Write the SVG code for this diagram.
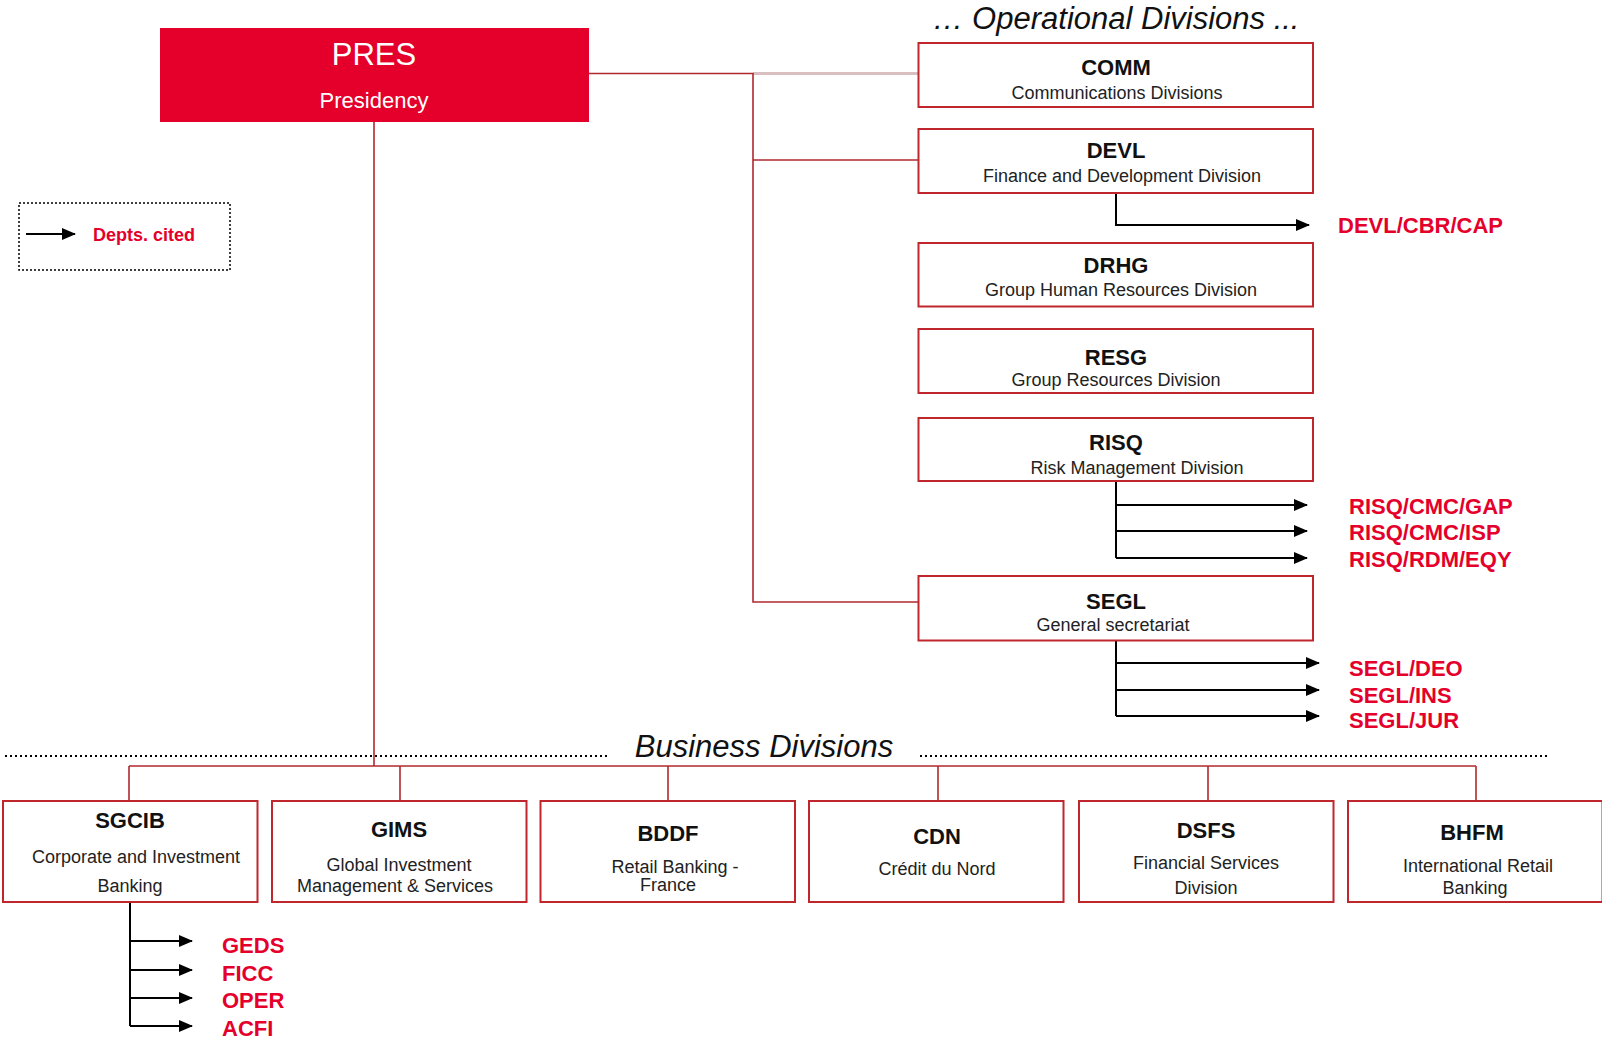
<svg xmlns="http://www.w3.org/2000/svg" width="1602" height="1041" viewBox="0 0 1602 1041">
<style>
.box{fill:#fff;stroke:#C0272D;stroke-width:2}
.t{font-family:"Liberation Sans",Arial,sans-serif;font-weight:bold;font-size:22px;fill:#111;text-anchor:middle}
.s{font-family:"Liberation Sans",Arial,sans-serif;font-size:18px;fill:#222;text-anchor:middle}
.lab{font-family:"Liberation Sans",Arial,sans-serif;font-weight:bold;font-size:22px;fill:#E4002B}
.hd{font-family:"Liberation Sans",Arial,sans-serif;font-style:italic;font-size:31px;fill:#111;text-anchor:middle}
.org{fill:none;stroke:#B0282E;stroke-width:1.6}
.arr{fill:none;stroke:#000;stroke-width:2;marker-end:url(#ah)}
.vl{fill:none;stroke:#000;stroke-width:2}
.dot{fill:none;stroke:#000;stroke-width:2;stroke-dasharray:2 3}
</style>
<defs>
<marker id="ah" markerUnits="userSpaceOnUse" markerWidth="14" markerHeight="12" refX="13" refY="6" orient="auto">
<path d="M0,0 L14,6 L0,12 z" fill="#000"/>
</marker>
</defs>
<rect width="1602" height="1041" fill="#fff"/>

<text class="hd" x="1116" y="29">… Operational Divisions ...</text>
<line class="dot" x1="5" y1="756" x2="608" y2="756"/>
<text class="hd" x="764" y="757">Business Divisions</text>
<line class="dot" x1="920" y1="756" x2="1550" y2="756"/>

<g id="connectors">
<line x1="753" y1="73.5" x2="918" y2="73.5" stroke="#D9BFBF" stroke-width="3"/>
<polyline class="org" points="589,73.5 753,73.5 753,602 918,602"/>
<line class="org" x1="753" y1="160" x2="918" y2="160"/>
<polyline class="org" points="374,122 374,766"/>
<line class="org" x1="129" y1="766" x2="1476" y2="766"/>
<line class="org" x1="129" y1="766" x2="129" y2="801"/>
<line class="org" x1="400" y1="766" x2="400" y2="801"/>
<line class="org" x1="668" y1="766" x2="668" y2="801"/>
<line class="org" x1="938" y1="766" x2="938" y2="801"/>
<line class="org" x1="1208" y1="766" x2="1208" y2="801"/>
<line class="org" x1="1476" y1="766" x2="1476" y2="801"/>
<polyline class="arr" points="1116,193 1116,225 1309,225"/>
<line class="vl" x1="1116" y1="481" x2="1116" y2="558"/>
<line class="arr" x1="1116" y1="505" x2="1307" y2="505"/>
<line class="arr" x1="1116" y1="531" x2="1307" y2="531"/>
<line class="arr" x1="1116" y1="558" x2="1307" y2="558"/>
<line class="vl" x1="1116" y1="641" x2="1116" y2="716"/>
<line class="arr" x1="1116" y1="663" x2="1319" y2="663"/>
<line class="arr" x1="1116" y1="690" x2="1319" y2="690"/>
<line class="arr" x1="1116" y1="716" x2="1319" y2="716"/>
<line class="vl" x1="130" y1="902" x2="130" y2="1026"/>
<line class="arr" x1="130" y1="941" x2="192" y2="941"/>
<line class="arr" x1="130" y1="970" x2="192" y2="970"/>
<line class="arr" x1="130" y1="998" x2="192" y2="998"/>
<line class="arr" x1="130" y1="1026" x2="192" y2="1026"/>
</g>

<g id="legend">
<rect x="19" y="203" width="211" height="67" fill="none" stroke="#000" stroke-width="1.5" stroke-dasharray="2 2"/>
<line class="arr" x1="26" y1="234" x2="75" y2="234"/>
<text class="lab" x="93" y="240.5" style="font-size:18px">Depts. cited</text>
</g>

<g id="PRES">
<rect x="160" y="28" width="429" height="94" fill="#E4002B"/>
<text x="374" y="65" text-anchor="middle" font-family="Liberation Sans, Arial, sans-serif" font-size="31" fill="#fff">PRES</text>
<text x="374" y="108" text-anchor="middle" font-family="Liberation Sans, Arial, sans-serif" font-size="22" fill="#fff">Presidency</text>
</g>

<g id="COMM"><rect class="box" x="918.5" y="43" width="394.5" height="64"/><text class="t" x="1116" y="75">COMM</text><text class="s" x="1117" y="98.5">Communications Divisions</text></g>
<g id="DEVL"><rect class="box" x="918.5" y="129" width="394.5" height="64"/><text class="t" x="1116" y="158">DEVL</text><text class="s" x="1122" y="181.5">Finance and Development Division</text></g>
<g id="DRHG"><rect class="box" x="918.5" y="243" width="394.5" height="63.5"/><text class="t" x="1116" y="273">DRHG</text><text class="s" x="1121" y="295.5">Group Human Resources Division</text></g>
<g id="RESG"><rect class="box" x="918.5" y="329" width="394.5" height="64"/><text class="t" x="1116" y="365">RESG</text><text class="s" x="1116" y="385.5">Group Resources Division</text></g>
<g id="RISQ"><rect class="box" x="918.5" y="418" width="394.5" height="63"/><text class="t" x="1116" y="450">RISQ</text><text class="s" x="1137" y="473.5">Risk Management Division</text></g>
<g id="SEGL"><rect class="box" x="918.5" y="576" width="394.5" height="64.5"/><text class="t" x="1116" y="609">SEGL</text><text class="s" x="1113" y="630.5">General secretariat</text></g>

<g id="labels-ops">
<text class="lab" x="1338" y="233">DEVL/CBR/CAP</text>
<text class="lab" x="1349" y="514">RISQ/CMC/GAP</text>
<text class="lab" x="1349" y="540">RISQ/CMC/ISP</text>
<text class="lab" x="1349" y="567">RISQ/RDM/EQY</text>
<text class="lab" x="1349" y="676">SEGL/DEO</text>
<text class="lab" x="1349" y="703">SEGL/INS</text>
<text class="lab" x="1349" y="728">SEGL/JUR</text>
</g>

<g id="SGCIB"><rect class="box" x="3" y="801" width="254.5" height="101"/><text class="t" x="130" y="828">SGCIB</text><text class="s" x="136" y="862.5">Corporate and Investment</text><text class="s" x="130" y="891.5">Banking</text></g>
<g id="GIMS"><rect class="box" x="272" y="801" width="254.5" height="101"/><text class="t" x="399" y="836.5">GIMS</text><text class="s" x="399" y="870.5">Global Investment</text><text class="s" x="395" y="891.5">Management &amp; Services</text></g>
<g id="BDDF"><rect class="box" x="540.5" y="801" width="254.5" height="101"/><text class="t" x="668" y="841">BDDF</text><text class="s" x="675" y="873">Retail Banking -</text><text class="s" x="668" y="890.5">France</text></g>
<g id="CDN"><rect class="box" x="809" y="801" width="254.5" height="101"/><text class="t" x="937" y="844">CDN</text><text class="s" x="937" y="874.5">Crédit du Nord</text></g>
<g id="DSFS"><rect class="box" x="1079" y="801" width="254.5" height="101"/><text class="t" x="1206" y="838">DSFS</text><text class="s" x="1206" y="868.5">Financial Services</text><text class="s" x="1206" y="893.5">Division</text></g>
<g id="BHFM"><rect class="box" x="1348" y="801" width="254.5" height="101"/><text class="t" x="1472" y="840">BHFM</text><text class="s" x="1478" y="871.5">International Retail</text><text class="s" x="1475" y="893.5">Banking</text></g>

<g id="labels-sgcib">
<text class="lab" x="222" y="953">GEDS</text>
<text class="lab" x="222" y="981">FICC</text>
<text class="lab" x="222" y="1008">OPER</text>
<text class="lab" x="222" y="1036">ACFI</text>
</g>
</svg>
